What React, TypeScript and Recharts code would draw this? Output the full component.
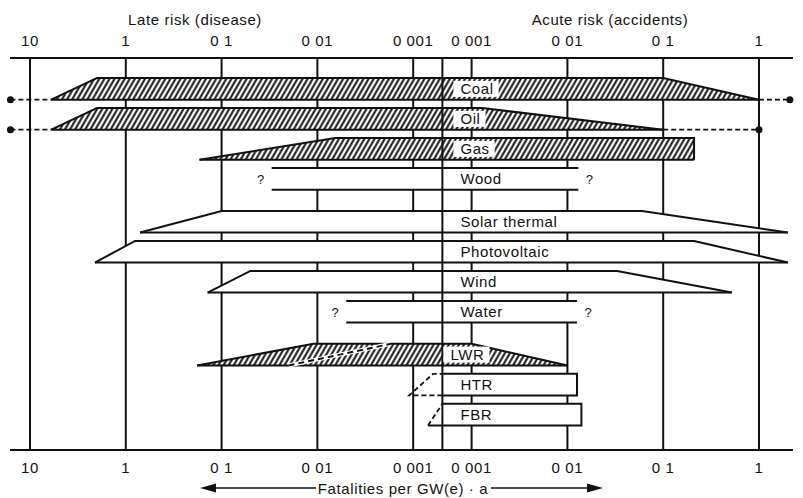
import React from "react";
import {
  ComposedChart,
  Area,
  Line,
  Scatter,
  XAxis,
  YAxis,
  CartesianGrid,
  Customized,
} from "recharts";

const W = 803;
const H = 498;
const FONT = "'Liberation Sans', Arial, Helvetica, sans-serif";
const INK = "#111";
const SPACING = 0.6;

// energy sources, top to bottom
const sources = ["Coal", "Oil", "Gas", "Wood", "Solar thermal", "Photovoltaic", "Wind", "Water", "LWR", "HTR", "FBR"];
const groups = [0, 0, 0, 0, 1, 1, 1, 1, 2, 2, 2];

// late risk (disease), fatalities per GW(e)·a: tip of the bar / start of full height
const lateOuter = [6, 6, 0.17, 0.03, 0.71, 2.1, 0.14, 0.005, 0.18, 0.0011, 0.0007];
const lateInner: (number | null)[] = [2, 2, 0.0065, 0.03, 0.1, 0.8, 0.05, 0.005, 0.011, 0.00062, null];
// acute risk (accidents): end of full height / tip of the bar
const acuteInner = [0.1, 0.0013, 0.21, 0.013, 0.06, 0.21, 0.033, 0.0126, 0.001, 0.0126, 0.014];
const acuteOuter = [1, 0.1, 0.21, 0.013, 2, 2, 0.52, 0.0126, 0.01, 0.0126, 0.014];
// dashed continuation beyond the scale
const lateReach: (number | null)[] = [16, 16, null, null, null, null, null, null, null, null, null];
const acuteReach: (number | null)[] = [2.1, 1, null, null, null, null, null, null, null, null, null];

const hatched = [true, true, true, false, false, false, false, false, true, false, false];
const uncertain = [false, false, false, true, false, false, false, true, false, false, false];
const estimatedLate = [false, false, false, false, false, false, false, false, false, true, true];
// dashed trend drawn inside the LWR bar (late risk values)
const lwrTrend = [0.02, 0.0017];

const lateTicks = [10, 1, 0.1, 0.01, 0.001];
const lateTickLabels = ["10", "1", "0 1", "0 01", "0 001"];
const acuteTicks = [0.001, 0.01, 0.1, 1];
const acuteTickLabels = ["0 001", "0 01", "0 1", "1"];

// axis positions in decades
const GAP = 0.61;
const CENTER = 4 + GAP / 2;
const late = (v: number) => 1 - Math.log10(v);
const acute = (v: number) => 4 + GAP + 3 + Math.log10(v);
const X_MIN = -0.2088;
const X_MAX = 7.965;
const Y_MAX = 13.07;
const HALF = 0.36;
const GROUP_GAP = 0.43;
const rowY = (i: number) => 1.03 + i + GROUP_GAP * groups[i];

const tickList = [
  ...lateTicks.map((v, i) => ({ pos: late(v), label: lateTickLabels[i] })),
  ...acuteTicks.map((v, i) => ({ pos: acute(v), label: acuteTickLabels[i] })),
];
const tickPositions = tickList.map((t) => t.pos);

const labelShift: Record<string, number> = { LWR: -10 };

let ctx: CanvasRenderingContext2D | null = null;
const measure = (s: string, size: number) => {
  if (!ctx) ctx = document.createElement("canvas").getContext("2d");
  if (!ctx) return s.length * size * 0.55;
  ctx.font = `${size}px 'Liberation Sans', Arial`;
  return ctx.measureText(s).width + s.length * SPACING;
};

type Pt = { x: number; y?: number; r?: [number, number] };

const bars = sources.map((name, i) => {
  const row = rowY(i);
  const b = row + HALF;
  const t = row - HALF;
  let area: Pt[];
  let solid: Pt[] | null = null;
  let dashed: Pt[] | null = null;
  if (estimatedLate[i]) {
    const ri = acute(acuteInner[i]);
    const ro = acute(acuteOuter[i]);
    const lo = late(lateOuter[i]);
    const li = lateInner[i];
    area = [
      { x: CENTER, r: [b, t] },
      { x: ri, r: [b, t] },
      { x: ro, r: [b, b] },
    ];
    if (li === null) {
      solid = [{ x: CENTER, y: t }, { x: ri, y: t }, { x: ro, y: b }, { x: lo, y: b }];
      dashed = [{ x: lo, y: b }, { x: CENTER, y: t }];
    } else {
      solid = [{ x: CENTER, y: t }, { x: ri, y: t }, { x: ro, y: b }, { x: CENTER, y: b }];
      dashed = [{ x: CENTER, y: b }, { x: lo, y: b }, { x: late(li), y: t }, { x: CENTER, y: t }];
    }
  } else {
    const left: Pt[] = uncertain[i]
      ? [{ x: late(lateOuter[i]), r: [b, t] }]
      : [
          { x: late(lateOuter[i]), r: [b, b] },
          { x: late(lateInner[i] as number), r: [b, t] },
        ];
    const right: Pt[] = uncertain[i]
      ? [{ x: acute(acuteOuter[i]), r: [b, t] }]
      : [
          { x: acute(acuteInner[i]), r: [b, t] },
          { x: acute(acuteOuter[i]), r: [b, b] },
        ];
    area = [...left, ...right];
  }
  const reachL = lateReach[i];
  const reachR = acuteReach[i];
  return {
    name,
    area,
    solid,
    dashed,
    stroke: estimatedLate[i] ? "none" : INK,
    fill: hatched[i] ? "url(#hatch)" : "#fff",
    extLeft: reachL !== null ? [{ x: late(reachL), y: b }, { x: late(lateOuter[i]), y: b }] : null,
    extRight: reachR !== null ? [{ x: acute(acuteOuter[i]), y: b }, { x: acute(reachR), y: b }] : null,
  };
});

const lwrIndex = sources.indexOf("LWR");
const lwrTrendPts = [
  { x: late(lwrTrend[0]), y: rowY(lwrIndex) + HALF },
  { x: late(lwrTrend[1]), y: rowY(lwrIndex) - HALF },
];

const centerLine = [
  { x: CENTER, y: 0 },
  { x: CENTER, y: Y_MAX },
];

const labelPoints = sources.map((name, i) => ({ x: CENTER, y: rowY(i), name, hatched: hatched[i] }));
const questionPoints = sources.flatMap((name, i) =>
  uncertain[i]
    ? [
        { x: late(lateOuter[i]), y: rowY(i), side: -1, name },
        { x: acute(acuteOuter[i]), y: rowY(i), side: 1, name },
      ]
    : []
);

const endDot = (which: number) => (props: any) => {
  const { cx, cy, index } = props;
  if (index !== which) return <g key={`d${index}`} />;
  return <circle key={`d${index}`} cx={cx} cy={cy} r={3.5} fill={INK} />;
};

const makeTick = (baseline: number) => (props: any) => {
  const { x, payload } = props;
  const t = tickList.find((tk) => Math.abs(tk.pos - payload.value) < 1e-6);
  return (
    <text
      x={x}
      y={baseline}
      textAnchor="middle"
      fontSize={15}
      fill={INK}
      fontFamily={FONT}
      letterSpacing={SPACING}
    >
      {t ? t.label : ""}
    </text>
  );
};

const LabelShape = (props: any) => {
  const { cx, cy, payload } = props;
  const x0 = cx + 18 + (labelShift[payload.name] ?? 0);
  const tw = measure(payload.name, 15);
  return (
    <g>
      {payload.hatched && <rect x={x0 - 7} y={cy - 8} width={tw + 12} height={16} fill="#fff" />}
      <text x={x0} y={cy + 5.5} fontSize={15} fill={INK} fontFamily={FONT} letterSpacing={SPACING}>
        {payload.name}
      </text>
    </g>
  );
};

const QuestionShape = (props: any) => {
  const { cx, cy, payload } = props;
  return (
    <text x={cx + payload.side * 11} y={cy + 5} textAnchor="middle" fontSize={13} fill={INK} fontFamily={FONT}>
      ?
    </text>
  );
};

const Decorations = () => (
  <g fontFamily={FONT} fill={INK} letterSpacing={SPACING}>
    <text x={195} y={25} textAnchor="middle" fontSize={15}>
      Late risk (disease)
    </text>
    <text x={610} y={25} textAnchor="middle" fontSize={15}>
      Acute risk (accidents)
    </text>
    <text x={403} y={494} textAnchor="middle" fontSize={15}>
      Fatalities per GW(e) · a
    </text>
    <line x1={316} y1={488} x2={212} y2={488} stroke={INK} strokeWidth={1.6} />
    <polygon points="200,488 216,483.5 216,492.5" fill={INK} />
    <line x1={491} y1={488} x2={590} y2={488} stroke={INK} strokeWidth={1.6} />
    <polygon points="603,488 587,483.5 587,492.5" fill={INK} />
  </g>
);

export default function App() {
  return (
    <div style={{ position: "absolute", left: 0, top: 0, width: W, height: H, background: "#fff" }}>
      <ComposedChart
        width={W}
        height={H}
        margin={{ top: 28, right: 10, bottom: 18, left: 10 }}
        style={{ fontFamily: FONT }}
      >
        <defs>
          <pattern id="hatch" patternUnits="userSpaceOnUse" width={4.4} height={4.4} patternTransform="rotate(30)">
            <rect width={4.4} height={4.4} fill="#fff" />
            <line x1={2.2} y1={0} x2={2.2} y2={4.4} stroke={INK} strokeWidth={2} />
          </pattern>
        </defs>
        <CartesianGrid xAxisId="bottom" horizontal={false} syncWithTicks stroke={INK} strokeWidth={2} />
        <XAxis
          xAxisId="top"
          orientation="top"
          type="number"
          dataKey="x"
          domain={[X_MIN, X_MAX]}
          allowDataOverflow
          ticks={tickPositions}
          interval={0}
          tickLine={false}
          axisLine={{ stroke: INK, strokeWidth: 2 }}
          tick={makeTick(46)}
          height={30}
        />
        <XAxis
          xAxisId="bottom"
          orientation="bottom"
          type="number"
          dataKey="x"
          domain={[X_MIN, X_MAX]}
          ticks={tickPositions}
          interval={0}
          tickLine={false}
          axisLine={{ stroke: INK, strokeWidth: 2 }}
          tick={makeTick(473)}
          height={30}
        />
        <YAxis type="number" dataKey="y" domain={[0, Y_MAX]} reversed hide />
        {bars.map((bar) => (
          <Area
            key={`area-${bar.name}`}
            xAxisId="bottom"
            data={bar.area}
            dataKey="r"
            type="linear"
            fill={bar.fill}
            fillOpacity={1}
            stroke={bar.stroke}
            strokeWidth={2}
            dot={false}
            activeDot={false}
            isAnimationActive={false}
          />
        ))}
        {bars
          .filter((bar) => bar.solid)
          .map((bar) => (
            <Line
              key={`solid-${bar.name}`}
              xAxisId="bottom"
              data={bar.solid as Pt[]}
              dataKey="y"
              type="linear"
              stroke={INK}
              strokeWidth={2}
              dot={false}
              activeDot={false}
              isAnimationActive={false}
            />
          ))}
        {bars
          .filter((bar) => bar.dashed)
          .map((bar) => (
            <Line
              key={`dashed-${bar.name}`}
              xAxisId="bottom"
              data={bar.dashed as Pt[]}
              dataKey="y"
              type="linear"
              stroke={INK}
              strokeWidth={1.8}
              strokeDasharray="5 3"
              dot={false}
              activeDot={false}
              isAnimationActive={false}
            />
          ))}
        {bars
          .filter((bar) => bar.extLeft)
          .map((bar) => (
            <Line
              key={`extl-${bar.name}`}
              xAxisId="bottom"
              data={bar.extLeft as Pt[]}
              dataKey="y"
              type="linear"
              stroke={INK}
              strokeWidth={1.8}
              strokeDasharray="5 3"
              dot={endDot(0)}
              activeDot={false}
              isAnimationActive={false}
            />
          ))}
        {bars
          .filter((bar) => bar.extRight)
          .map((bar) => (
            <Line
              key={`extr-${bar.name}`}
              xAxisId="bottom"
              data={bar.extRight as Pt[]}
              dataKey="y"
              type="linear"
              stroke={INK}
              strokeWidth={1.8}
              strokeDasharray="5 3"
              dot={endDot(1)}
              activeDot={false}
              isAnimationActive={false}
            />
          ))}
        <Line
          xAxisId="bottom"
          data={lwrTrendPts}
          dataKey="y"
          type="linear"
          stroke="#fff"
          strokeWidth={4}
          dot={false}
          activeDot={false}
          isAnimationActive={false}
        />
        <Line
          xAxisId="bottom"
          data={lwrTrendPts}
          dataKey="y"
          type="linear"
          stroke={INK}
          strokeWidth={2}
          strokeDasharray="6 4"
          dot={false}
          activeDot={false}
          isAnimationActive={false}
        />
        <Line
          xAxisId="bottom"
          data={centerLine}
          dataKey="y"
          type="linear"
          stroke={INK}
          strokeWidth={2}
          dot={false}
          activeDot={false}
          isAnimationActive={false}
        />
        <Scatter xAxisId="bottom" data={labelPoints} shape={LabelShape} isAnimationActive={false} />
        <Scatter xAxisId="bottom" data={questionPoints} shape={QuestionShape} isAnimationActive={false} />
        <Customized component={<Decorations />} />
      </ComposedChart>
    </div>
  );
}
